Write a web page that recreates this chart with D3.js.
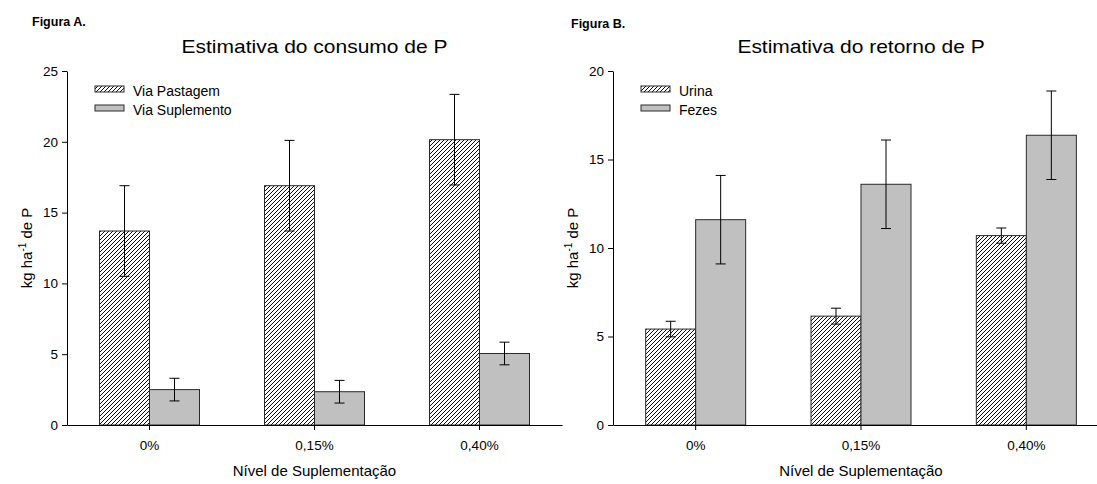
<!DOCTYPE html>
<html>
<head>
<meta charset="utf-8">
<script src="https://cdn.jsdelivr.net/npm/d3@7/dist/d3.min.js"></script>
<style>
  html, body { margin: 0; padding: 0; background: #fff; }
  svg { display: block; font-family: "Liberation Sans", Arial, sans-serif; }
</style>
</head>
<body>
<svg id="chart" width="1097" height="484"></svg>
<script>
// ---- Data ----
const categories = ["0%", "0,15%", "0,40%"];

const seriesA = ["Via Pastagem", "Via Suplemento"];
const pastagemValues = [13.7, 16.9, 20.15];
const pastagemErrors = [3.2, 3.2, 3.2];
const suplementoValues = [2.5, 2.35, 5.05];
const suplementoErrors = [0.8, 0.8, 0.8];
const ticksA = [0, 5, 10, 15, 20, 25];

const seriesB = ["Urina", "Fezes"];
const urinaValues = [5.42, 6.15, 10.7];
const urinaErrors = [0.44, 0.45, 0.43];
const fezesValues = [11.6, 13.6, 16.37];
const fezesErrors = [2.5, 2.5, 2.5];
const ticksB = [0, 5, 10, 15, 20];

const panels = [
  {
    fig: "Figura A.", title: "Estimativa do consumo de P",
    series: seriesA,
    values: [pastagemValues, suplementoValues],
    errors: [pastagemErrors, suplementoErrors],
    ticks: ticksA, ymax: 25,
    left: 67, right: 562, figX: 32, figY: 26
  },
  {
    fig: "Figura B.", title: "Estimativa do retorno de P",
    series: seriesB,
    values: [urinaValues, fezesValues],
    errors: [urinaErrors, fezesErrors],
    ticks: ticksB, ymax: 20,
    left: 613, right: 1109, figX: 571, figY: 28
  }
];

const svg = d3.select("#chart");
const defs = svg.append("defs");
const pat = defs.append("pattern")
  .attr("id", "hatch").attr("patternUnits", "userSpaceOnUse")
  .attr("width", 4).attr("height", 4);
pat.append("rect").attr("width", 4).attr("height", 4).attr("fill", "#fff");
pat.append("path").attr("d", "M-1,1 l2,-2 M0,4 l4,-4 M3,5 l2,-2")
  .attr("stroke", "#000").attr("stroke-width", 0.95);

const fills = ["url(#hatch)", "#c0c0c0"];
const plotTop = 71, plotBottom = 425;

panels.forEach(p => {
  const g = svg.append("g");
  const x = d3.scaleBand().domain(categories).range([p.left, p.right]).padding(0);
  const y = d3.scaleLinear().domain([0, p.ymax]).range([plotBottom, plotTop]);
  const inner = d3.scaleBand().domain(p.series).range([-50, 50]).padding(0);

  g.append("text").attr("x", p.figX).attr("y", p.figY)
    .attr("font-size", 12.5).attr("font-weight", "bold").text(p.fig);

  g.append("text")
    .attr("transform", `translate(${(p.left + p.right) / 2},53) scale(1.2,1)`)
    .attr("text-anchor", "middle").attr("font-size", 17.5).text(p.title);

  p.series.forEach((s, si) => {
    g.selectAll(null).data(categories).enter().append("rect")
      .attr("x", (c) => x(c) + x.bandwidth() / 2 + inner(s))
      .attr("y", (c, i) => y(p.values[si][i]))
      .attr("width", inner.bandwidth())
      .attr("height", (c, i) => y(0) - y(p.values[si][i]))
      .attr("fill", fills[si])
      .attr("stroke", "#2a2a2a").attr("stroke-width", 1);
  });

  p.series.forEach((s, si) => {
    categories.forEach((c, i) => {
      const cx = x(c) + x.bandwidth() / 2 + inner(s) + inner.bandwidth() / 2;
      const v = p.values[si][i], e = p.errors[si][i];
      const eg = g.append("g").attr("stroke", "#000").attr("stroke-width", 1);
      eg.append("line").attr("x1", cx).attr("x2", cx).attr("y1", y(v - e)).attr("y2", y(v + e));
      eg.append("line").attr("x1", cx - 5).attr("x2", cx + 5).attr("y1", y(v - e)).attr("y2", y(v - e));
      eg.append("line").attr("x1", cx - 5).attr("x2", cx + 5).attr("y1", y(v + e)).attr("y2", y(v + e));
    });
  });

  const ya = g.append("g").attr("transform", `translate(${p.left},0)`)
    .call(d3.axisLeft(y).tickValues(p.ticks).tickSize(5).tickSizeOuter(0).tickPadding(4));
  ya.selectAll("text").attr("font-size", 13.5).attr("fill", "#000").style("font-family", "Liberation Sans, Arial, sans-serif");
  ya.selectAll("line,path").attr("stroke", "#000");

  const xa = g.append("g").attr("transform", `translate(0,${plotBottom})`)
    .call(d3.axisBottom(x).tickSize(5).tickSizeOuter(0).tickPadding(10));
  xa.selectAll("text").attr("font-size", 13.5).attr("fill", "#000").style("font-family", "Liberation Sans, Arial, sans-serif");
  xa.selectAll("line,path").attr("stroke", "#000");

  g.append("text").attr("x", (p.left + p.right) / 2).attr("y", 476)
    .attr("text-anchor", "middle").attr("font-size", 15).text("Nível de Suplementação");

  const yt = g.append("text")
    .attr("transform", `translate(${p.left - 35},${(plotTop + plotBottom) / 2}) rotate(-90)`)
    .attr("text-anchor", "middle").attr("font-size", 15);
  yt.append("tspan").text("kg ha");
  yt.append("tspan").attr("dy", -6).attr("font-size", 10).text("-1");
  yt.append("tspan").attr("dy", 6).text(" de P");

  const lx = p.left + 28;
  p.series.forEach((s, si) => {
    const ly = 86 + si * 19;
    g.append("rect").attr("x", lx).attr("y", ly).attr("width", 29).attr("height", 6)
      .attr("fill", fills[si]).attr("stroke", "#2a2a2a").attr("stroke-width", 1);
    g.append("text").attr("x", lx + 38).attr("y", ly + 9.5)
      .attr("font-size", 14).text(s);
  });
});
</script>
</body>
</html>
